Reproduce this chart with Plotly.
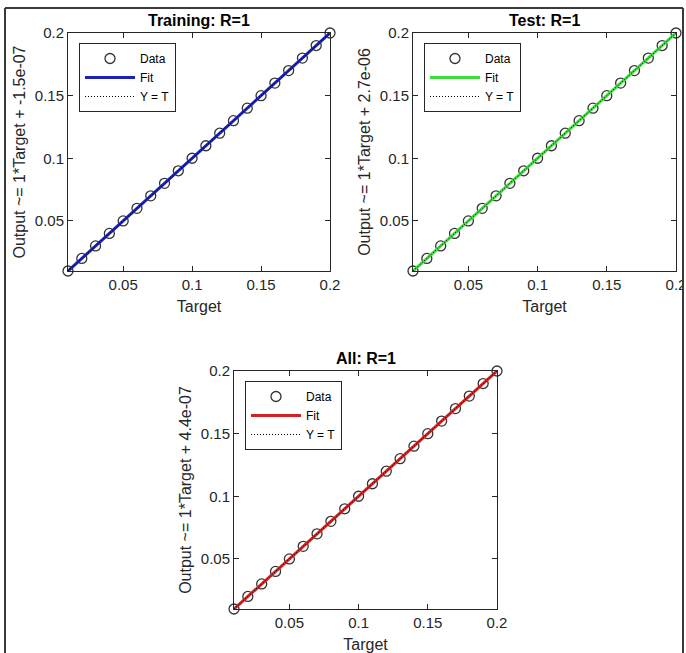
import plotly.graph_objects as go

W, H = 686, 653

# ---- data ----
targets = [0.01, 0.02, 0.03, 0.04, 0.05, 0.06, 0.07, 0.08, 0.09, 0.10,
           0.11, 0.12, 0.13, 0.14, 0.15, 0.16, 0.17, 0.18, 0.19, 0.20]
outputs_train = [0.01, 0.02, 0.03, 0.04, 0.05, 0.06, 0.07, 0.08, 0.09, 0.10,
                 0.11, 0.12, 0.13, 0.14, 0.15, 0.16, 0.17, 0.18, 0.19, 0.20]
outputs_test = [0.01, 0.02, 0.03, 0.04, 0.05, 0.06, 0.07, 0.08, 0.09, 0.10,
                0.11, 0.12, 0.13, 0.14, 0.15, 0.16, 0.17, 0.18, 0.19, 0.20]
outputs_all = [0.01, 0.02, 0.03, 0.04, 0.05, 0.06, 0.07, 0.08, 0.09, 0.10,
               0.11, 0.12, 0.13, 0.14, 0.15, 0.16, 0.17, 0.18, 0.19, 0.20]
slopes = [1.0, 1.0, 1.0]
intercepts = [-1.5e-07, 2.7e-06, 4.4e-07]
titles = ["Training: R=1", "Test: R=1", "All: R=1"]
ylabels = ["Output ~= 1*Target + -1.5e-07",
           "Output ~= 1*Target + 2.7e-06",
           "Output ~= 1*Target + 4.4e-07"]
fit_colors = ["#1a22b5", "#3ddc3d", "#d42222"]
tick_vals = [0.05, 0.1, 0.15, 0.2]
tick_text = ["0.05", "0.1", "0.15", "0.2"]
axis_range = [0.01, 0.2]

# pixel boxes of the three axes: (left, right, top, bottom)
boxes = [(68, 330, 33, 271), (413, 676, 33, 271), (234, 497, 371, 609)]
outputs = [outputs_train, outputs_test, outputs_all]

FONT = "Liberation Sans, Arial, sans-serif"
GREY = "#262626"

fig = go.Figure()
annotations = []
layout = {}
for i in range(3):
    sfx = "" if i == 0 else str(i + 1)
    xa, ya = "x" + sfx, "y" + sfx
    lg = "legend" + sfx
    l, r, t, b = boxes[i]
    fit_y = [slopes[i] * v + intercepts[i] for v in axis_range]
    fig.add_trace(go.Scatter(
        x=targets, y=outputs[i], mode="markers", name="Data",
        marker=dict(symbol="circle-open", size=10, color="#333333",
                    line=dict(width=1.3, color="#333333")),
        xaxis=xa, yaxis=ya, legend=lg, cliponaxis=False))
    fig.add_trace(go.Scatter(
        x=axis_range, y=fit_y, mode="lines", name="Fit",
        line=dict(color=fit_colors[i], width=3),
        xaxis=xa, yaxis=ya, legend=lg))
    fig.add_trace(go.Scatter(
        x=axis_range, y=axis_range, mode="lines", name="Y = T",
        line=dict(color="#000000", width=1, dash="1px,2px"),
        xaxis=xa, yaxis=ya, legend=lg))

    common = dict(range=axis_range, tickvals=tick_vals, ticktext=tick_text,
                  ticks="inside", ticklen=5, tickwidth=1, tickcolor=GREY,
                  showline=True, linecolor=GREY, linewidth=1, mirror="ticks",
                  showgrid=False, zeroline=False, automargin=False,
                  ticklabeloverflow="allow",
                  tickfont=dict(family=FONT, size=15, color=GREY))
    layout["xaxis" + sfx] = dict(
        common, domain=[l / W, r / W], anchor=ya,
        title=dict(text="Target", font=dict(family=FONT, size=16, color=GREY),
                   standoff=8))
    layout["yaxis" + sfx] = dict(
        common, domain=[1 - b / H, 1 - t / H], anchor=xa,
        title=dict(text=ylabels[i], font=dict(family=FONT, size=16, color=GREY),
                   standoff=5))
    layout[lg] = dict(
        x=(l + 11) / W, y=1 - (t + 10) / H, xanchor="left", yanchor="top",
        bgcolor="white", bordercolor=GREY, borderwidth=1,
        font=dict(family=FONT, size=12, color="#000000"),
        itemwidth=50, tracegroupgap=0)
    annotations.append(dict(
        text="<b>" + titles[i] + "</b>", x=(l + r) / 2 / W, y=1 - (t - 13) / H,
        xref="paper", yref="paper", xanchor="center", yanchor="middle",
        showarrow=False, font=dict(family=FONT, size=16, color="#000000")))

shapes = [
    dict(type="rect", xref="paper", yref="paper", x0=684 / W, x1=1, y0=0, y1=1,
         fillcolor="white", line=dict(width=0), layer="above"),
    dict(type="line", xref="paper", yref="paper", x0=5 / W, x1=5 / W, y0=0, y1=1 - 8 / H,
         line=dict(color="#3a3a3a", width=2), layer="above"),
    dict(type="line", xref="paper", yref="paper", x0=5 / W, x1=683 / W,
         y0=1 - 8 / H, y1=1 - 8 / H, line=dict(color="#3a3a3a", width=2), layer="above"),
    dict(type="line", xref="paper", yref="paper", x0=683 / W, x1=683 / W, y0=0, y1=1 - 8 / H,
         line=dict(color="#3a3a3a", width=2), layer="above"),
]

fig.update_layout(
    width=W, height=H, margin=dict(l=0, r=0, t=0, b=0),
    paper_bgcolor="white", plot_bgcolor="white",
    annotations=annotations, shapes=shapes, **layout)

fig.write_html("out.html", config={"displayModeBar": False},
               post_script="document.body.style.margin='0';document.body.style.overflow='hidden';")
